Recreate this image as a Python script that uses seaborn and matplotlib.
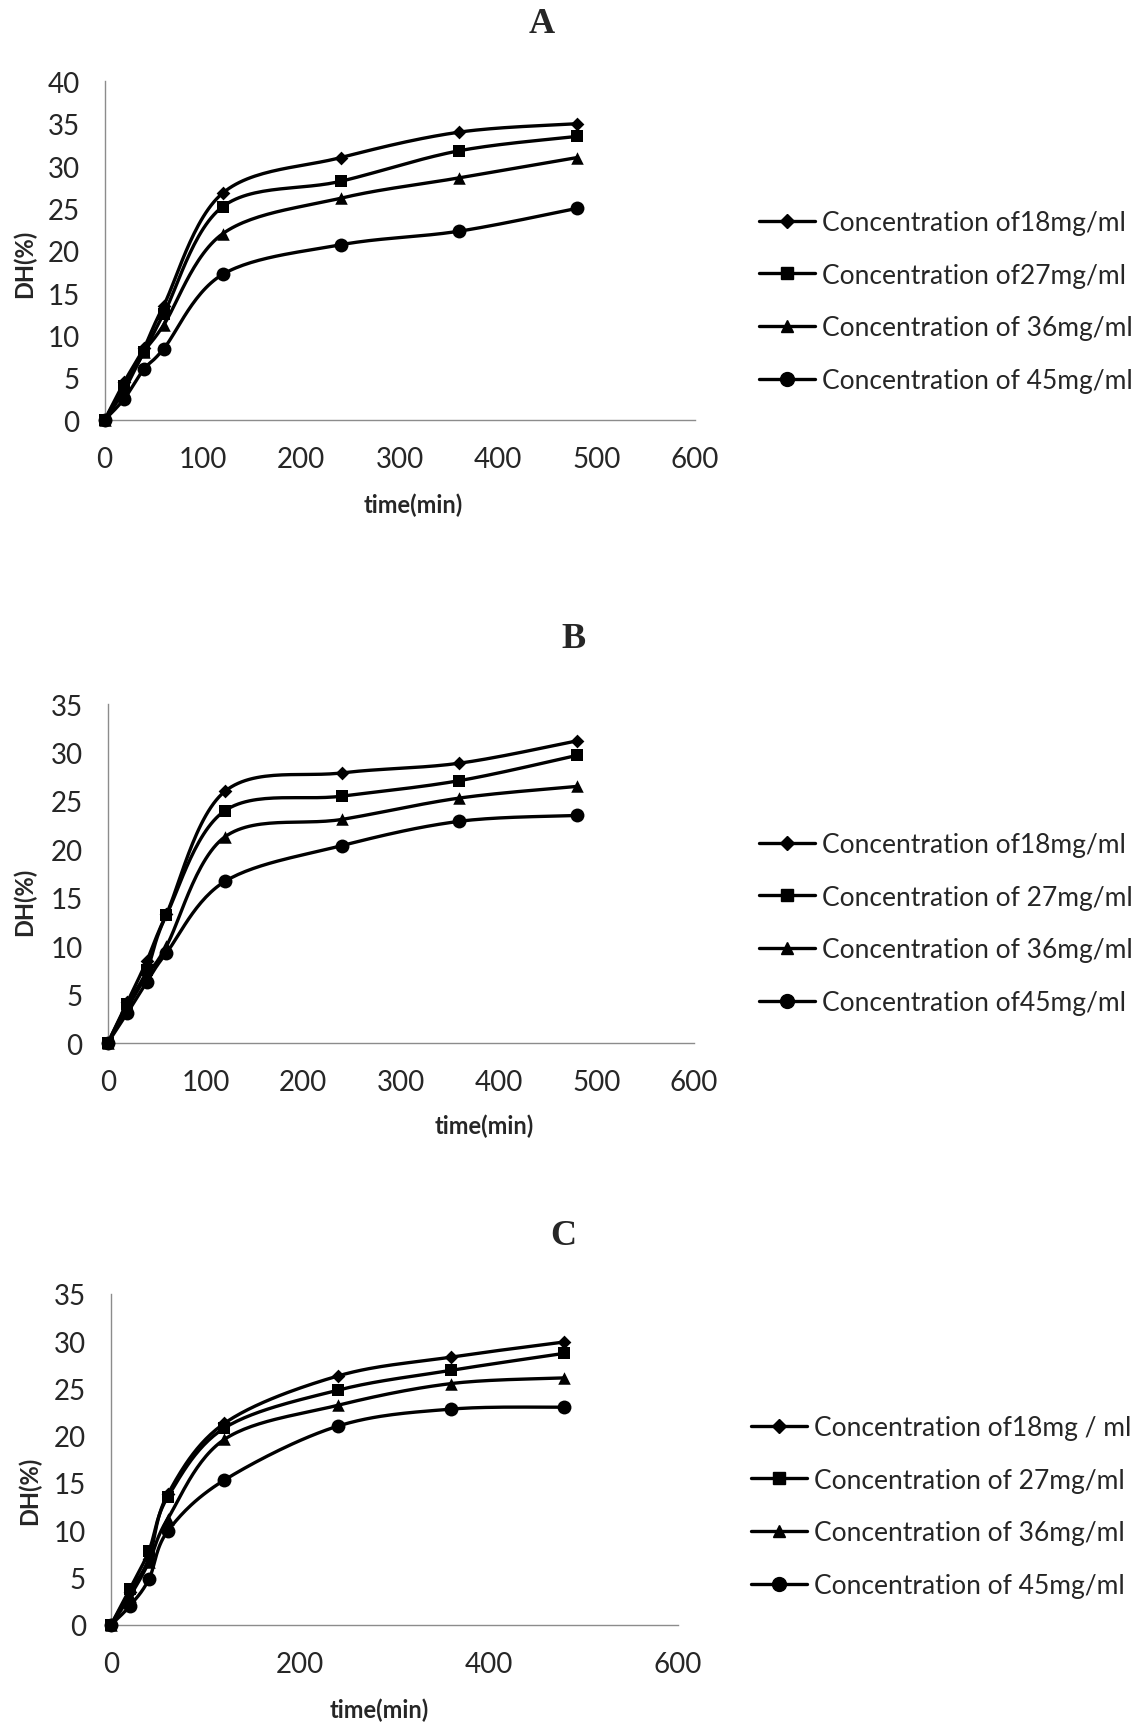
import numpy as np
import seaborn as sns
import matplotlib.pyplot as plt
from matplotlib.lines import Line2D

# sampling times (min)
time = [0, 20, 40, 60, 120, 240, 360, 480]

# panel A
a_18 = [0, 4.5, 8.5, 13.5, 26.8, 31.0, 34.0, 35.0]
a_27 = [0, 4.0, 8.0, 12.5, 25.2, 28.2, 31.8, 33.5]
a_36 = [0, 3.5, 8.0, 11.2, 22.0, 26.2, 28.6, 31.0]
a_45 = [0, 2.5, 6.0, 8.4, 17.2, 20.7, 22.3, 25.0]
labels_a = ['Concentration of18mg/ml', 'Concentration of27mg/ml',
            'Concentration of 36mg/ml', 'Concentration of 45mg/ml']

# panel B
b_18 = [0, 4.2, 8.5, 13.3, 26.0, 27.9, 28.9, 31.2]
b_27 = [0, 4.0, 7.5, 13.2, 24.0, 25.5, 27.1, 29.7]
b_36 = [0, 3.6, 7.0, 10.0, 21.3, 23.1, 25.3, 26.5]
b_45 = [0, 3.1, 6.3, 9.3, 16.7, 20.4, 22.9, 23.5]
labels_b = ['Concentration of18mg/ml', 'Concentration of 27mg/ml',
            'Concentration of 36mg/ml', 'Concentration of45mg/ml']

# panel C
c_18 = [0, 3.5, 7.0, 13.8, 21.3, 26.3, 28.3, 29.9]
c_27 = [0, 3.8, 7.8, 13.5, 20.8, 24.8, 26.9, 28.7]
c_36 = [0, 3.0, 6.6, 11.2, 19.6, 23.2, 25.5, 26.1]
c_45 = [0, 2.0, 4.8, 9.9, 15.3, 21.0, 22.8, 23.0]
labels_c = ['Concentration of18mg / ml', 'Concentration of 27mg/ml',
            'Concentration of 36mg/ml', 'Concentration of 45mg/ml']

markers = ['D', 's', '^', 'o']
msizes = [7, 9, 9, 10]

sns.set_style('white')
plt.rcParams['font.family'] = ['Lato', 'DejaVu Sans']


def smooth(x, y, xspan, yspan, n=30):
    # Catmull-Rom style curve like Excel's smoothed line, built in a
    # roughly display-scaled space
    p = np.column_stack([np.array(x) / xspan, np.array(y) / yspan])
    pts = [p[0]] + list(p) + [p[-1]]
    out = []
    t = np.linspace(0, 1, n)[:, None]
    for i in range(1, len(pts) - 2):
        p0, p1, p2, p3 = pts[i - 1], pts[i], pts[i + 1], pts[i + 2]
        b1 = p1 + (p2 - p0) / 6
        b2 = p2 - (p3 - p1) / 6
        seg = ((1 - t) ** 3) * p1 + 3 * ((1 - t) ** 2) * t * b1 + 3 * (1 - t) * t ** 2 * b2 + t ** 3 * p2
        out.append(seg)
    out = np.vstack(out)
    return out[:, 0] * xspan, out[:, 1] * yspan


fig = plt.figure(figsize=(11.45, 17.24), dpi=100)

panels = [
    ('A', [a_18, a_27, a_36, a_45], labels_a, 40, 100,
     [0.0913, 0.7558, 0.5157, 0.1964], (0.4734, 0.986), (0.361, 0.707), (0.021, 0.847), (0.663, 0.8245)),
    ('B', [b_18, b_27, b_36, b_45], labels_b, 35, 100,
     [0.0941, 0.3944, 0.5120, 0.1966], (0.5005, 0.6288), (0.4227, 0.3469), (0.021, 0.4768), (0.663, 0.4637)),
    ('C', [c_18, c_27, c_36, c_45], labels_c, 35, 200,
     [0.0970, 0.0570, 0.4950, 0.1920], (0.4917, 0.283), (0.3314, 0.0081), (0.026, 0.1354), (0.656, 0.1256)),
]

for title, series, labels, ymax, xstep, rect, tpos, xlpos, ylpos, lgpos in panels:
    ax = fig.add_axes(rect)
    for vals, m, ms in zip(series, markers, msizes):
        sx, sy = smooth(time, vals, 600, ymax * 0.6)
        sns.lineplot(x=sx, y=sy, color='black', lw=2.4, ax=ax, sort=False,
                     estimator=None, legend=False)
        sns.scatterplot(x=time, y=vals, marker=m, color='black', s=ms ** 2,
                        edgecolor='black', linewidth=0, ax=ax, zorder=3,
                        clip_on=False, legend=False)
    ax.set_xlim(0, 600)
    ax.set_ylim(0, ymax)
    ax.set_xticks(np.arange(0, 601, xstep))
    ax.set_yticks(np.arange(0, ymax + 1, 5))
    ax.tick_params(length=0, labelsize=20, pad=19)
    ax.tick_params(axis='y', pad=18)
    for s in ['top', 'right']:
        ax.spines[s].set_visible(False)
    for s in ['left', 'bottom']:
        ax.spines[s].set_color('#8c8c8c')
        ax.spines[s].set_linewidth(1.0)
    ax.set_xlabel('')
    ax.set_ylabel('')

    fig.text(tpos[0], tpos[1], title, ha='center', va='center', fontsize=26,
             fontweight='bold', family='Liberation Serif')
    fig.text(xlpos[0], xlpos[1], 'time(min)', ha='center', va='center',
             fontsize=17, fontweight='bold')
    fig.text(ylpos[0], ylpos[1], 'DH(%)', ha='center', va='center',
             fontsize=17, fontweight='bold', rotation=90)

    handles = [Line2D([], [], color='black', lw=2.4, marker=m, markersize=ms)
               for m, ms in zip(markers, msizes)]
    ax.legend(handles, labels, loc='center left', bbox_to_anchor=lgpos,
              bbox_transform=fig.transFigure, frameon=False, fontsize=19,
              handlelength=2.1, handletextpad=0.3, labelspacing=1.05,
              borderpad=0, borderaxespad=0)

fig.savefig('out.png', dpi=100)
